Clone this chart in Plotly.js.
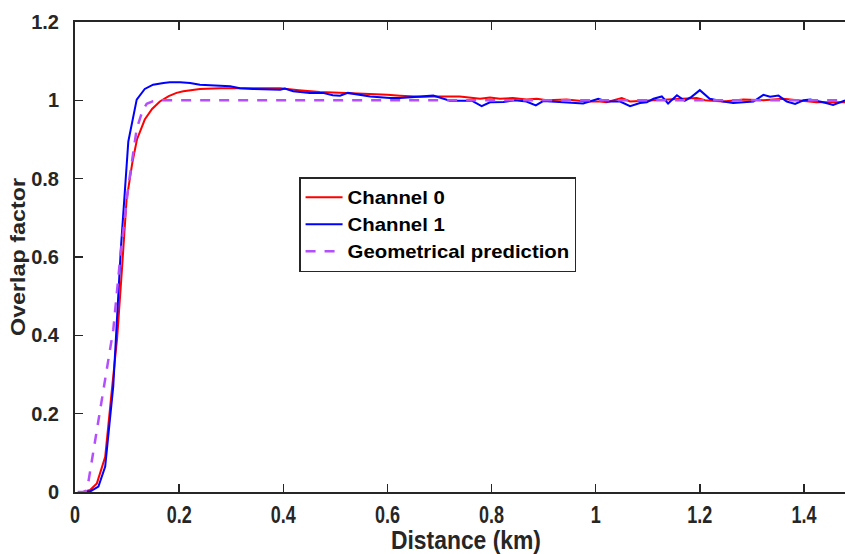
<!DOCTYPE html>
<html>
<head>
<meta charset="utf-8">
<script src="https://cdn.plot.ly/plotly-3.0.1.min.js"></script>
<style>
  html, body { margin: 0; padding: 0; background: #ffffff; }
  #chart { width: 845px; height: 554px; }
</style>
</head>
<body>
<div id="chart"></div>
<script>
// Overlap factor versus range for the two receiver channels
const channel0Dist = [0.015,0.029,0.042,0.058,0.070,0.081,0.090,0.099,0.110,0.119,0.134,0.148,0.163,0.180,0.195,0.208,0.240,0.279,0.330,0.394,0.430,0.470,0.520,0.567,0.600,0.624,0.663,0.688,0.739,0.778,0.797,0.816,0.841,0.867,0.887,0.906,0.944,0.983,1.008,1.021,1.050,1.066,1.120,1.156,1.171,1.194,1.210,1.245,1.284,1.322,1.360,1.390,1.424,1.479];
const channel0Overlap = [0,0.005,0.022,0.09,0.25,0.394,0.565,0.746,0.84,0.90,0.951,0.978,0.997,1.011,1.019,1.023,1.029,1.031,1.031,1.031,1.026,1.021,1.019,1.017,1.014,1.012,1.009,1.010,1.010,1.004,1.007,1.004,1.006,1.002,1.004,1.000,1.002,0.997,0.997,0.995,1.006,0.997,1.000,1.002,1.004,1.006,1.000,0.997,1.002,1.000,1.004,1.000,0.995,0.995];

const channel1Dist = [0.015,0.030,0.045,0.058,0.0735,0.088,0.1024,0.1185,0.134,0.150,0.170,0.182,0.202,0.221,0.240,0.279,0.298,0.317,0.342,0.394,0.403,0.419,0.451,0.476,0.495,0.509,0.524,0.567,0.605,0.624,0.688,0.720,0.762,0.781,0.797,0.823,0.845,0.867,0.885,0.899,0.931,0.976,1.005,1.021,1.047,1.066,1.085,1.098,1.111,1.127,1.139,1.156,1.171,1.184,1.200,1.219,1.245,1.264,1.303,1.322,1.335,1.351,1.367,1.383,1.399,1.412,1.437,1.456,1.479];
const channel1Overlap = [0,0.002,0.014,0.065,0.27,0.62,0.895,1.002,1.029,1.040,1.0445,1.046,1.046,1.0445,1.040,1.038,1.036,1.031,1.029,1.027,1.030,1.023,1.019,1.019,1.013,1.012,1.019,1.010,1.006,1.006,1.012,0.999,0.999,0.985,0.995,0.996,1.000,0.997,0.987,0.998,0.996,0.992,1.004,0.997,0.997,0.985,0.993,0.995,1.004,1.010,0.992,1.013,0.999,1.009,1.026,1.004,0.997,0.993,0.997,1.014,1.009,1.012,0.997,0.991,1.000,1.002,0.995,0.988,1.000];

const geometryDist = [0.005,0.020,0.025,0.047,0.060,0.0736,0.087,0.1024,0.1185,0.130,0.1377,0.150,0.160,1.479];
const geometryOverlap = [0,0,0.02,0.20,0.305,0.415,0.60,0.78,0.927,0.975,0.991,0.998,1.0,1.0];

const seriesNames = ['Channel 0', 'Channel 1', 'Geometrical prediction'];

const xTicks = [0, 0.2, 0.4, 0.6, 0.8, 1, 1.2, 1.4];
const xTickText = ['0', '0.2', '0.4', '0.6', '0.8', '1', '1.2', '1.4'];
const yTicks = [0, 0.2, 0.4, 0.6, 0.8, 1, 1.2];
const yTickText = ['0', '0.2', '0.4', '0.6', '0.8', '1', '1.2'];

const axisColor = '#262626';
const sansBold = 'Liberation Sans, Arial, Helvetica, sans-serif';
const legendBoxWidth = 277;

const traces = [
  {
    x: channel0Dist, y: channel0Overlap, name: seriesNames[0],
    type: 'scatter', mode: 'lines',
    line: { color: '#ff0000', width: 2 }
  },
  {
    x: channel1Dist, y: channel1Overlap, name: seriesNames[1],
    type: 'scatter', mode: 'lines',
    line: { color: '#0000ff', width: 2 }
  },
  {
    x: geometryDist, y: geometryOverlap, name: seriesNames[2],
    type: 'scatter', mode: 'lines',
    line: { color: '#b44fff', width: 2.5, dash: '10px,9px' }
  }
];

const layout = {
  width: 845,
  height: 554,
  margin: { l: 75, r: 0, t: 22, b: 62 },
  paper_bgcolor: '#ffffff',
  plot_bgcolor: '#ffffff',
  showlegend: true,
  legend: {
    x: 0.291, y: 0.67, xanchor: 'left', yanchor: 'top',
    bgcolor: '#ffffff', bordercolor: axisColor, borderwidth: 1.5,
    font: { family: sansBold, size: 18.5, color: '#000000', weight: 'bold' },
    traceorder: 'normal', itemwidth: 37
  },
  xaxis: {
    range: [0, 1.4788],
    tickvals: xTicks, ticktext: xTickText,
    ticks: 'inside', ticklen: 8, tickwidth: 1.5, tickcolor: axisColor,
    showline: true, linecolor: axisColor, linewidth: 2, mirror: 'ticks',
    showgrid: false, zeroline: false,
    tickfont: { family: sansBold, size: 24, color: '#262626', weight: 'bold' },
    title: { text: 'Distance (km)', standoff: 8,
             font: { family: sansBold, size: 25, color: '#262626', weight: 'bold' } }
  },
  yaxis: {
    range: [0, 1.2],
    tickvals: yTicks, ticktext: yTickText,
    ticks: 'inside', ticklen: 8, tickwidth: 1.5, tickcolor: axisColor,
    showline: true, linecolor: axisColor, linewidth: 2,
    showgrid: false, zeroline: false,
    ticklabelstandoff: 10,
    tickfont: { family: sansBold, size: 20, color: '#262626', weight: 'bold' },
    title: { text: 'Overlap factor', standoff: 0,
             font: { family: sansBold, size: 20, color: '#262626', weight: 'bold' } }
  }
};

// Scale the glyph run of each matched text element along its own baseline,
// keeping its anchor point.
function fitText(selector, factor, targetWidth) {
  document.querySelectorAll(selector).forEach(function (el) {
    const w = el.getComputedTextLength();
    if (w > 0) {
      const len = targetWidth ? targetWidth : w * factor;
      el.setAttribute('lengthAdjust', 'spacingAndGlyphs');
      el.setAttribute('textLength', len.toFixed(2));
    }
  });
}

Plotly.newPlot('chart', traces, layout, { displayModeBar: false, staticPlot: true })
  .then(function () {
    fitText('#chart .xtick text', 0.75);
    fitText('#chart .g-xtitle text', 0, 150);
    fitText('#chart .g-ytitle text', 0, 158);
    fitText('#chart .legend .legendtext', 1.1);
    // nudge the x title a little right of the plot centre
    const xt = document.querySelector('#chart .g-xtitle text');
    if (xt) xt.setAttribute('x', parseFloat(xt.getAttribute('x')) + 6);
    // widen the legend frame and lift its clipping so the wider text fits
    const bg = document.querySelector('#chart .legend rect.bg');
    if (bg) bg.setAttribute('width', legendBoxWidth - 1.5);
    document.querySelectorAll('#chart .legend [clip-path]').forEach(function (el) {
      el.removeAttribute('clip-path');
    });
  });
</script>
</body>
</html>
